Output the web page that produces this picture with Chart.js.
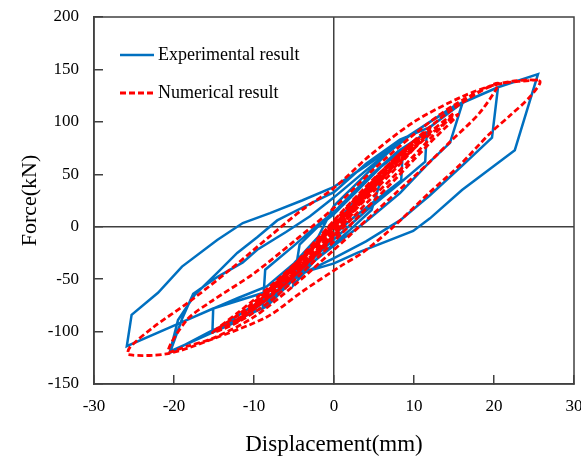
<!DOCTYPE html>
<html>
<head>
<meta charset="utf-8">
<title>Force-Displacement hysteresis</title>
<script src="https://cdn.jsdelivr.net/npm/chart.js@4/dist/chart.umd.min.js"></script>
<style>
  html, body { margin: 0; padding: 0; background: #fff; }
  #wrap { width: 581px; height: 459px; }
</style>
</head>
<body>
<div id="wrap"><canvas id="chart" width="581" height="459"></canvas></div>
<script>
// ── Data (displacement mm, force kN) ─────────────────────────────────────────

const xTicks = [-30, -20, -10, 0, 10, 20, 30];
const yTicks = [-150, -100, -50, 0, 50, 100, 150, 200];

// Experimental result: one cycle per amplitude level
const expCycle1 = [[0,0],[2,20],[4,36],[6,48],[4.7,16],[2,-3],[0,-16],[-2.5,-33],[-5.1,-56],[-4.3,-17],[-2,0],[0,12]];
const expCycle2 = [[3,35],[6,58],[8.6,73],[8.4,44],[5,24],[2,6],[0,-8],[-3,-30],[-6,-55],[-8.9,-77],[-8.6,-41],[-5,-18],[-2,2],[0,14]];
const expCycle3 = [[4,45],[8,72],[11.6,90],[11.4,62],[8,40],[4,15],[0,-12],[-4,-40],[-8.4,-70],[-12,-90],[-15.2,-101],[-15.1,-78],[-12,-68],[-8.4,-57],[-5,-35],[-2,-10],[0,20]];
const expCycle4 = [[4,50],[8,80],[12,100],[16.1,119],[14.5,80],[12,62],[8.25,32],[4,5],[0,-18],[-4,-42],[-8.4,-76],[-15.5,-100],[-20.5,-120],[-19,-88],[-17.6,-64],[-14.6,-48],[-11.4,-34],[-9.6,-22],[-6,-5],[-3,10],[0,28]];
const expCycle5 = [[5,60],[10,90],[15,115],[20.5,133],[19.75,85],[16,58],[12,30],[8.25,6],[4,-14],[0,-30],[-4,-45],[-9,-70],[-15.5,-102],[-20.5,-119],[-19.5,-89],[-17.4,-65],[-14.6,-44],[-12.1,-25],[-9.6,-10],[-7.1,6],[-3.5,20],[0,33]];
const expCycle6 = [[4,60],[8.25,83],[12,95],[16,118],[20.5,133],[25.5,145.5],[22.6,73],[16,35],[12,8],[9.9,-4],[2.9,-25],[0,-35],[-4,-44],[-8.4,-62],[-13,-73],[-15.1,-78],[-19,-91],[-25.9,-114],[-25.3,-84],[-22,-63],[-19,-38],[-14.6,-12.6],[-11.4,3.5],[-8,13],[-4,25],[0,38],[4,58],[10,90]];

// Numerical result: loops of growing amplitude
const numLoopA = [[0,0],[2,17],[4,33],[2,13],[0,-6],[-2,-19],[-4,-31],[-2,-13],[0,5]];
const numLoopB = [[3,29],[6,48],[4,30],[2,12],[0,-8],[-3,-29],[-6,-46],[-4,-28],[-2,-11],[0,6]];
const numLoopC = [[4,38],[8,65],[6,46],[3,20],[0,-8],[-4,-38],[-8,-61],[-5,-37],[-2,-13],[0,6]];
const numLoopD1 = [[5,46],[10,82],[7,58],[4,32],[0,-5],[-5,-45],[-10,-76],[-7,-53],[-3,-22],[0,2]];
const numLoopD2 = [[5,44],[10,80],[7,55],[4,28],[0,-8],[-5,-47],[-10,-78],[-7,-55],[-3,-24],[0,0]];
const numLoopE1 = [[4,34],[8,65],[12,94],[9,70],[5,38],[0,0],[-4,-34],[-8,-63],[-12,-88],[-9,-66],[-5,-37],[-1,-6],[0,2]];
const numLoopE2 = [[4,32],[8,63],[12,92],[9,66],[5,34],[0,-4],[-4,-37],[-8,-66],[-12,-90],[-9,-68],[-5,-39],[-1,-8],[0,0]];
const numLoopF1 = [[4,32],[8,62],[12,90],[15,108],[12,84],[8,52],[4,22],[0,-10],[-4,-40],[-8,-67],[-12,-88],[-15,-100],[-12,-82],[-8,-57],[-4,-29],[0,0]];
const numLoopF2 = [[4,30],[8,60],[12,88],[15.5,107],[12,80],[8,48],[4,17],[0,-14],[-4,-44],[-8,-71],[-12,-91],[-15.2,-101],[-12,-84],[-8,-59],[-4,-31],[0,-2]];
const numLoopG = [[5,45],[10,82],[15,113],[20.5,137],[18.25,109],[14.5,81],[12,62],[8,34],[4,6],[0,-22],[-5,-56],[-10,-86],[-15,-106],[-18.4,-114],[-20.75,-119],[-18.4,-89],[-15.5,-72],[-10.1,-45],[-5,-14],[0,18]];
const numLoopH = [[5,55],[10,88],[15,116],[20.5,136],[25.7,139],[24.5,124],[22,106],[19.5,89],[15.75,59],[12,33],[7,-3],[3.7,-24],[0.75,-38],[-4,-62],[-8.4,-86],[-15.5,-108],[-20.75,-121],[-25.7,-122],[-25.5,-115],[-22.6,-96],[-18,-71],[-13,-41],[-8,-9],[-4,16],[0,37],[4.5,68],[10,100],[16,124],[20.5,136],[25.5,140]];

const expCycles = [expCycle1, expCycle2, expCycle3, expCycle4, expCycle5, expCycle6];
const numLoops = [numLoopA, numLoopB, numLoopC, numLoopD1, numLoopD2, numLoopE1, numLoopE2, numLoopF1, numLoopF2, numLoopG, numLoopH];

// ── Helpers ─────────────────────────────────────────────────────────────────

const SERIF = '"Liberation Serif", "Times New Roman", serif';
const AXIS_COLOR = '#404040';

function toPoints(cycles) {
  return cycles.flat().map(([x, y]) => ({ x, y }));
}

// plot frame (top + right sides)
const framePlugin = {
  id: 'frame',
  beforeDatasetsDraw(chart) {
    const { ctx, chartArea: a } = chart;
    ctx.save();
    ctx.strokeStyle = AXIS_COLOR;
    ctx.lineWidth = 1.5;
    ctx.strokeRect(a.left, a.top, a.right - a.left, a.bottom - a.top);
    ctx.restore();
  },
};

// legend drawn inside the plot area, upper left
const insideLegend = {
  id: 'insideLegend',
  afterDraw(chart) {
    const { ctx } = chart;
    const rows = [
      { ds: chart.data.datasets[1], y: 55 },
      { ds: chart.data.datasets[0], y: 93 },
    ];
    ctx.save();
    rows.forEach(r => {
      ctx.beginPath();
      ctx.strokeStyle = r.ds.borderColor;
      ctx.lineWidth = r.ds.borderWidth;
      ctx.setLineDash(r.ds.borderDash || []);
      ctx.moveTo(120, r.y);
      ctx.lineTo(154, r.y);
      ctx.stroke();
      ctx.setLineDash([]);
      ctx.fillStyle = '#000';
      ctx.font = `18px ${SERIF}`;
      ctx.textBaseline = 'middle';
      ctx.fillText(r.ds.label, 158, r.y);
    });
    ctx.restore();
  },
};

// ── Chart ───────────────────────────────────────────────────────────────────

const zeroLine = c => (c.tick && c.tick.value === 0 ? AXIS_COLOR : 'rgba(0,0,0,0)');

new Chart(document.getElementById('chart'), {
  type: 'scatter',
  data: {
    datasets: [
      {
        label: 'Numerical result',
        data: toPoints(numLoops),
        showLine: true,
        borderColor: '#FF0000',
        borderWidth: 2.8,
        borderDash: [6, 3],
        tension: 0.3,
        pointRadius: 0,
        fill: false,
      },
      {
        label: 'Experimental result',
        data: toPoints(expCycles),
        showLine: true,
        borderColor: '#0070C0',
        borderWidth: 2.5,
        tension: 0,
        pointRadius: 0,
        fill: false,
      },
    ],
  },
  options: {
    responsive: false,
    animation: false,
    layout: { padding: { top: 17, right: 7, left: 0, bottom: 0 } },
    plugins: {
      legend: { display: false },
      tooltip: { enabled: false },
    },
    scales: {
      x: {
        type: 'linear',
        min: -30,
        max: 30,
        afterBuildTicks: s => { s.ticks = xTicks.map(v => ({ value: v })); },
        afterFit: s => { s.height = 75; s.paddingLeft = 0; s.paddingRight = 0; },
        ticks: { color: '#000', font: { family: SERIF, size: 17 }, padding: 21, maxRotation: 0 },
        grid: { color: zeroLine, tickColor: AXIS_COLOR, lineWidth: 1.5, tickLength: -9 },
        border: { color: AXIS_COLOR, width: 1.5 },
        title: { display: true, text: 'Displacement(mm)', color: '#000', font: { family: SERIF, size: 23 }, padding: { top: 0, bottom: 0 } },
      },
      y: {
        type: 'linear',
        min: -150,
        max: 200,
        afterBuildTicks: s => { s.ticks = yTicks.map(v => ({ value: v })); },
        afterFit: s => { s.width = 94; s.paddingTop = 0; s.paddingBottom = 0; },
        ticks: { color: '#000', font: { family: SERIF, size: 17 }, padding: 24 },
        grid: { color: zeroLine, tickColor: AXIS_COLOR, lineWidth: 1.5, tickLength: -9 },
        border: { color: AXIS_COLOR, width: 1.5 },
        title: { display: true, text: 'Force(kN)', color: '#000', font: { family: SERIF, size: 22 }, padding: { top: 17, bottom: 0 } },
      },
    },
  },
  plugins: [framePlugin, insideLegend],
});
</script>
</body>
</html>
